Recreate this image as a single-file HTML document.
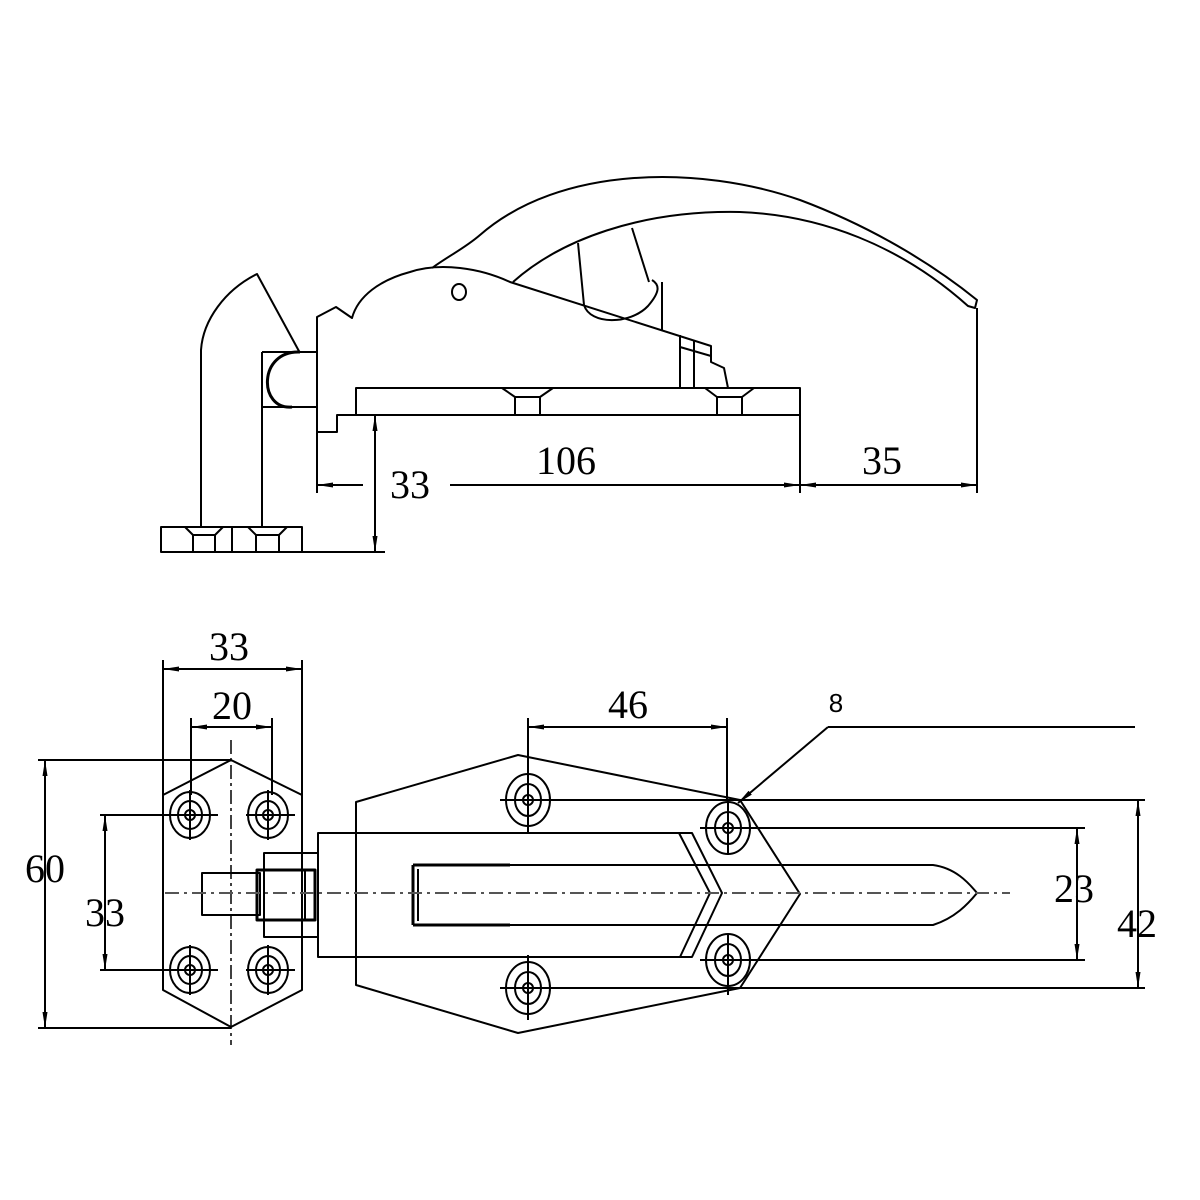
<!DOCTYPE html>
<html><head><meta charset="utf-8"><style>html,body{margin:0;padding:0;background:#fff}svg{display:block}</style></head>
<body>
<svg width="1200" height="1200" viewBox="0 0 1200 1200" xmlns="http://www.w3.org/2000/svg">
<defs>
<marker id="a" viewBox="0 0 16 6" refX="16" refY="3" markerWidth="16" markerHeight="6" markerUnits="userSpaceOnUse" orient="auto-start-reverse"><path d="M0,0.5 L16,3 L0,5.5 Z" fill="#000"/></marker>
</defs>
<g fill="none" stroke="#000" stroke-width="2" stroke-linejoin="round">
<!-- TOP VIEW -->
<!-- post -->
<path d="M201,528 L201,350 C203,320 225,290 257,274 L300,353"/>
<line x1="262" y1="352" x2="262" y2="528"/>
<path d="M262,352 L318,352 M262,407 L318,407"/>
<path d="M300,352 C258,350 258,410 292,407" stroke-width="3"/>
<!-- base -->
<rect x="161" y="527" width="141" height="25"/>
<line x1="232" y1="527" x2="232" y2="552"/>
<line x1="302" y1="552" x2="385" y2="552"/>
<path d="M185,527 L193,535 L215,535 L223,527 M193,535 L193,552 M215,535 L215,552"/>
<path d="M248,527 L256,535 L279,535 L287,527 M256,535 L256,552 M279,535 L279,552"/>
<!-- body -->
<path d="M317,493 L317,317 L336,307 L352,318 C358,296 380,280 410,272 C440,262 480,268 510,282 L711,346 L711,362 L724,368 L728,388"/>
<path d="M680,335 L680,388 M694,340 L694,388"/>
<path d="M680,347 L711,356"/>
<path d="M317,432 L337,432 L337,415 L800,415"/>
<rect x="356" y="388" width="444" height="27"/>
<path d="M502,388 L515,397 L540,397 L553,388 M515,397 L515,415 M540,397 L540,415"/>
<path d="M705,388 L717,397 L742,397 L754,388 M717,397 L717,415 M742,397 L742,415"/>
<ellipse cx="459" cy="292" rx="7" ry="8"/>
<!-- handle -->
<path d="M432,268 C450,255 465,248 480,235 C560,165 700,165 800,200 C880,230 940,270 977,300 L975,308 L968,306 C900,245 820,215 740,212 C640,210 560,240 513,282"/>
<path d="M578,243 L584,305 M632,228 L649,282"/>
<path d="M584,305 C590,325 630,325 648,306 C660,292 660,285 652,280 M662,282 L662,330"/>
<line x1="977" y1="308" x2="977" y2="493"/>
<line x1="800" y1="415" x2="800" y2="493"/>
<!-- dims -->
<line x1="317" y1="485" x2="363" y2="485" marker-start="url(#a)"/>
<line x1="450" y1="485" x2="800" y2="485" marker-end="url(#a)"/>
<line x1="800" y1="485" x2="977" y2="485" marker-start="url(#a)" marker-end="url(#a)"/>
<line x1="375" y1="415" x2="375" y2="552" marker-start="url(#a)" marker-end="url(#a)"/>

<!-- BOTTOM VIEW -->
<!-- left plate -->
<path d="M231,760 L163,795 L163,990 L231,1027 L302,990 L302,795 Z"/>
<line x1="163" y1="660" x2="163" y2="795"/>
<line x1="302" y1="660" x2="302" y2="795"/>
<line x1="191" y1="718" x2="191" y2="795"/>
<line x1="272" y1="718" x2="272" y2="795"/>
<line x1="163" y1="669" x2="302" y2="669" marker-start="url(#a)" marker-end="url(#a)"/>
<line x1="191" y1="727" x2="272" y2="727" marker-start="url(#a)" marker-end="url(#a)"/>
<line x1="231" y1="740" x2="231" y2="1045" stroke-width="1.5" stroke-dasharray="14,4,3,4"/>
<line x1="38" y1="760" x2="231" y2="760"/>
<line x1="38" y1="1028" x2="231" y2="1028"/>
<line x1="45" y1="760" x2="45" y2="1028" marker-start="url(#a)" marker-end="url(#a)"/>
<line x1="100" y1="815" x2="190" y2="815"/>
<line x1="100" y1="970" x2="190" y2="970"/>
<line x1="105" y1="815" x2="105" y2="970" marker-start="url(#a)" marker-end="url(#a)"/>
<!-- holes left -->
<g>
<ellipse cx="190" cy="815" rx="20" ry="23"/><ellipse cx="190" cy="815" rx="12" ry="14"/><circle cx="190" cy="815" r="5"/>
<ellipse cx="268" cy="815" rx="20" ry="23"/><ellipse cx="268" cy="815" rx="12" ry="14"/><circle cx="268" cy="815" r="5"/>
<ellipse cx="190" cy="970" rx="20" ry="23"/><ellipse cx="190" cy="970" rx="12" ry="14"/><circle cx="190" cy="970" r="5"/>
<ellipse cx="268" cy="970" rx="20" ry="23"/><ellipse cx="268" cy="970" rx="12" ry="14"/><circle cx="268" cy="970" r="5"/>
<path d="M163,815 L218,815 M190,790 L190,840 M246,815 L295,815 M268,790 L268,840 M163,970 L218,970 M190,945 L190,995 M246,970 L295,970 M268,945 L268,995"/>
</g>
<!-- stub & nut -->
<rect x="202" y="873" width="58" height="42"/>
<rect x="264" y="853" width="54" height="84"/>
<rect x="257" y="870" width="58" height="50" stroke-width="3"/>
<line x1="305" y1="870" x2="305" y2="920"/>
<!-- main plate -->
<path d="M356,802 L518,755 L740,800 L800,894 L740,988 L518,1033 L356,985 Z"/>
<path d="M318,833 L692,833 L722,893 L692,957 L318,957 Z" fill="#fff"/>
<path d="M679,833 L710,893 L680,957"/>
<line x1="356" y1="833" x2="356" y2="957"/>
<!-- bolt -->
<path d="M510,865 L933,865 C955,868 968,882 977,893 C968,904 955,918 933,925 L510,925"/>
<path d="M413,865 L510,865 M413,925 L510,925 M413,865 L413,925" stroke-width="3"/>
<path d="M418,869 L418,921"/>
<line x1="165" y1="893" x2="1010" y2="893" stroke-width="2" stroke="#555" stroke-dasharray="14,5,3,5"/>
<!-- holes main -->
<g>
<ellipse cx="528" cy="800" rx="22" ry="26"/><ellipse cx="528" cy="800" rx="13" ry="16"/><circle cx="528" cy="800" r="5"/>
<ellipse cx="528" cy="988" rx="22" ry="26"/><ellipse cx="528" cy="988" rx="13" ry="16"/><circle cx="528" cy="988" r="5"/>
<ellipse cx="728" cy="828" rx="22" ry="26"/><ellipse cx="728" cy="828" rx="13" ry="16"/><circle cx="728" cy="828" r="5"/>
<ellipse cx="728" cy="960" rx="22" ry="26"/><ellipse cx="728" cy="960" rx="13" ry="16"/><circle cx="728" cy="960" r="5"/>
<path d="M528,760 L528,833 M528,955 L528,1020 M728,800 L728,855 M728,935 L728,995"/>
<line x1="500" y1="800" x2="1145" y2="800"/>
<line x1="500" y1="988" x2="1145" y2="988"/>
<line x1="700" y1="828" x2="1085" y2="828"/>
<line x1="700" y1="960" x2="1085" y2="960"/>
</g>
<line x1="528" y1="718" x2="528" y2="760"/>
<line x1="727" y1="718" x2="727" y2="800"/>
<line x1="528" y1="727" x2="727" y2="727" marker-start="url(#a)" marker-end="url(#a)"/>
<path d="M828,727 L1135,727"/>
<line x1="828" y1="727" x2="738" y2="803" marker-end="url(#a)"/>
<line x1="1077" y1="828" x2="1077" y2="960" marker-start="url(#a)" marker-end="url(#a)"/>
<line x1="1138" y1="800" x2="1138" y2="988" marker-start="url(#a)" marker-end="url(#a)"/>
</g>
<g font-family="Liberation Serif, serif" font-size="40" text-anchor="middle" fill="#000">
<text x="410" y="498">33</text>
<text x="566" y="474">106</text>
<text x="882" y="474">35</text>
<text x="229" y="660">33</text>
<text x="232" y="719">20</text>
<text x="45" y="882">60</text>
<text x="105" y="926">33</text>
<text x="628" y="718">46</text>
<text x="1074" y="902">23</text>
<text x="1137" y="937">42</text>
<text x="836" y="712" font-size="26" font-family="Liberation Sans, sans-serif">8</text>
</g>
</svg>
</body></html>
